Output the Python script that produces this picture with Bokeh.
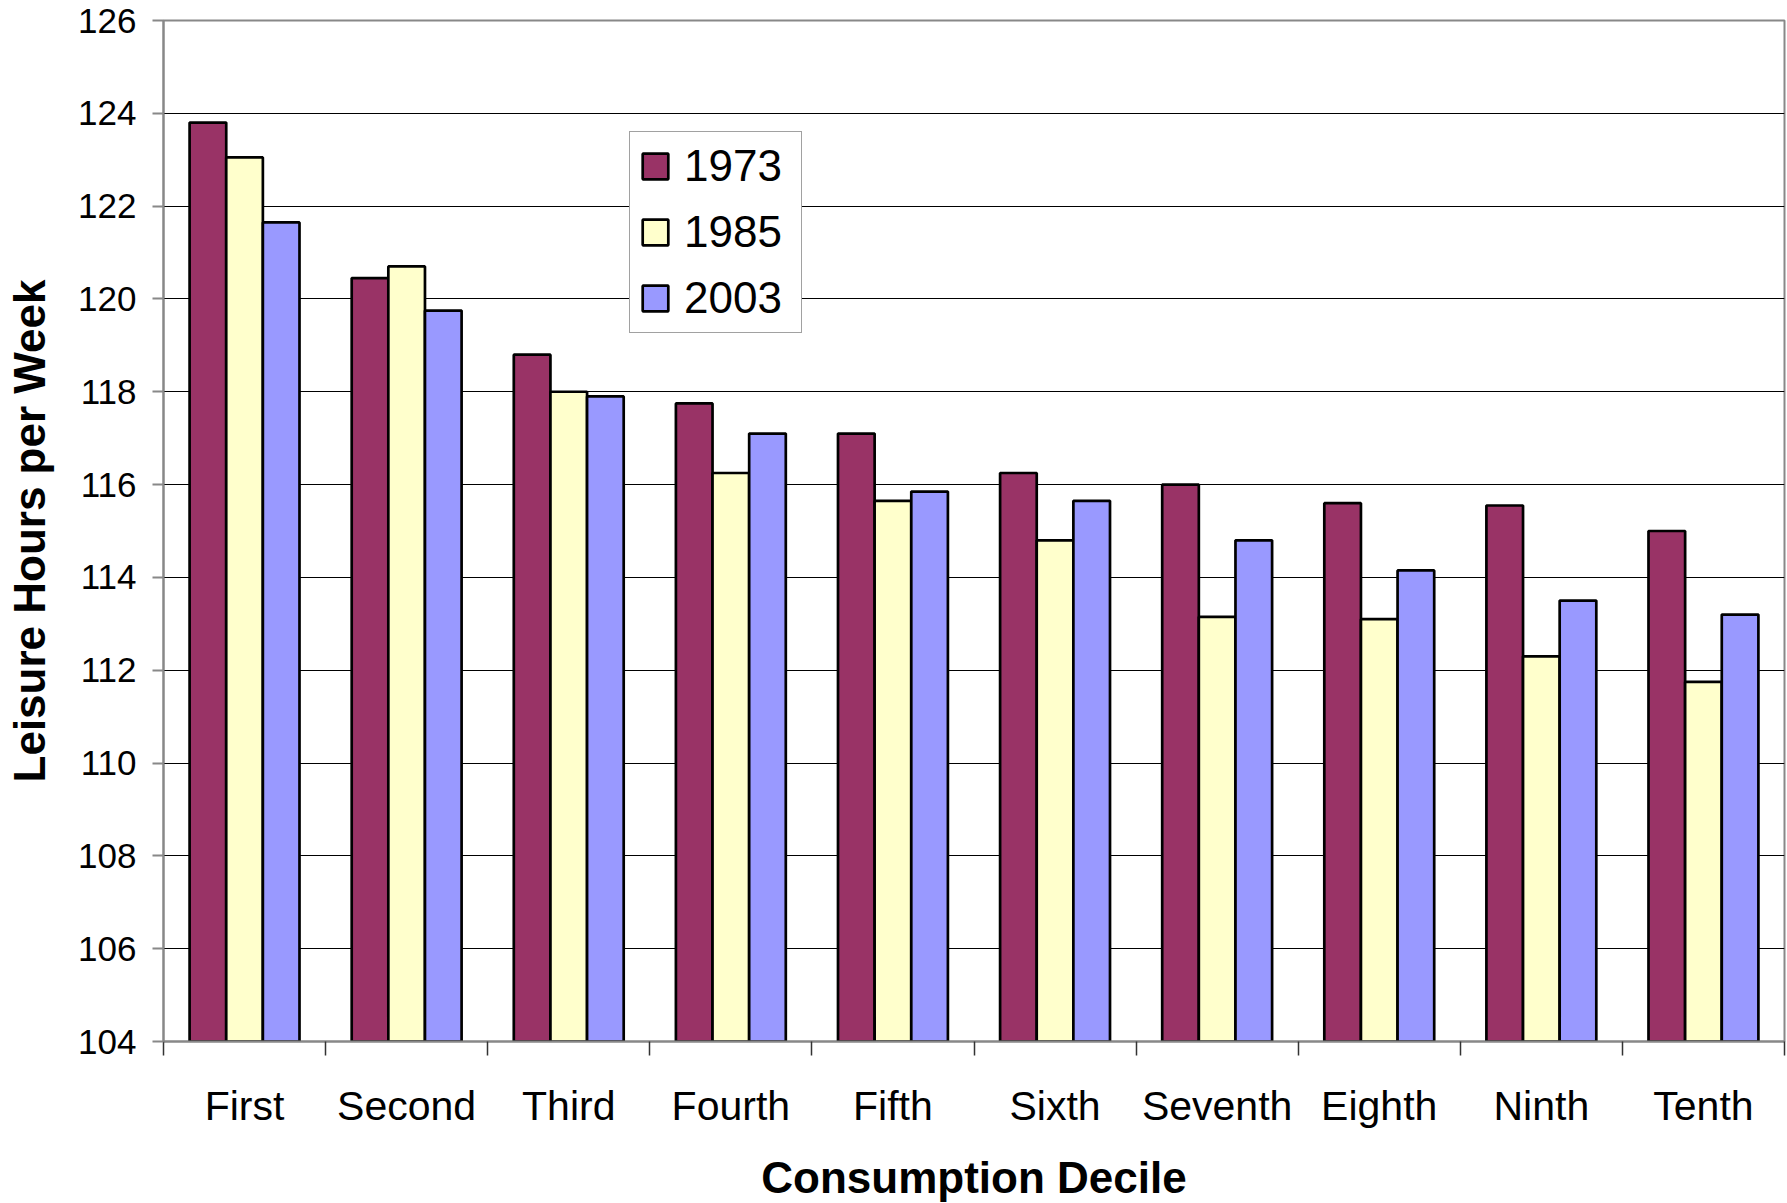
from bokeh.plotting import figure
from bokeh.models import Range1d, FixedTicker, Legend, LegendItem, ColumnDataSource
from bokeh.embed import file_html
from bokeh.resources import INLINE

categories = ["First", "Second", "Third", "Fourth", "Fifth", "Sixth", "Seventh", "Eighth", "Ninth", "Tenth"]
series_names = ["1973", "1985", "2003"]
values_1973 = [123.8, 120.45, 118.8, 117.75, 117.1, 116.25, 116.0, 115.6, 115.55, 115.0]
values_1985 = [123.05, 120.7, 118.0, 116.25, 115.65, 114.8, 113.15, 113.1, 112.3, 111.75]
values_2003 = [121.65, 119.75, 117.9, 117.1, 115.85, 115.65, 114.8, 114.15, 113.5, 113.2]
y_ticks = [104, 106, 108, 110, 112, 114, 116, 118, 120, 122, 124, 126]

colors = ["#993366", "#FFFFCC", "#9999FF"]
FONT = "Liberation Sans"

p = figure(
    output_backend="svg", toolbar_location=None,
    frame_width=1621, frame_height=1021,
    min_border_left=163, min_border_top=20, min_border_right=3, min_border_bottom=162,
    x_range=Range1d(0, len(categories)), y_range=Range1d(y_ticks[0], y_ticks[-1]),
    background_fill_color="white", border_fill_color="white",
)

bar_w = 0.226
offsets = [-bar_w, 0.0, bar_w]
items = []
for name, vals, col, off in zip(series_names, [values_1973, values_1985, values_2003], colors, offsets):
    src = ColumnDataSource(dict(x=[i + 0.5 + off for i in range(len(categories))], top=vals))
    r = p.vbar(x="x", top="top", bottom=y_ticks[0], width=bar_w, source=src,
               fill_color=col, line_color="black", line_width=2.7)
    items.append(LegendItem(label=name, renderers=[r]))

# grid
p.xgrid.grid_line_color = None
p.ygrid.grid_line_color = "black"
p.ygrid.grid_line_width = 1
p.ygrid.ticker = FixedTicker(ticks=y_ticks)

p.outline_line_color = "#888888"
p.outline_line_width = 2

# y axis
p.yaxis.ticker = FixedTicker(ticks=y_ticks)
p.yaxis.axis_line_color = "#888888"
p.yaxis.axis_line_width = 2
p.yaxis.major_tick_line_color = "#888888"
p.yaxis.major_tick_line_width = 2
p.yaxis.major_tick_out = 11
p.yaxis.major_tick_in = 0
p.yaxis.minor_tick_line_color = None
p.yaxis.major_label_text_font = FONT
p.yaxis.major_label_text_font_size = "35px"
p.yaxis.major_label_text_color = "black"
p.yaxis.major_label_standoff = 16
p.yaxis.axis_label = "Leisure Hours per Week"
p.yaxis.axis_label_text_font = FONT
p.yaxis.axis_label_text_font_style = "bold"
p.yaxis.axis_label_text_font_size = "44px"
p.yaxis.axis_label_text_color = "black"
p.yaxis.axis_label_standoff = 21

# x axis
centers = [i + 0.5 for i in range(len(categories))]
bounds = list(range(len(categories) + 1))
p.xaxis.ticker = FixedTicker(ticks=centers, minor_ticks=bounds)
p.xaxis.major_label_overrides = {c: lab for c, lab in zip(centers, categories)}
p.xaxis.axis_line_color = "#888888"
p.xaxis.axis_line_width = 2
p.xaxis.major_tick_line_color = None
p.xaxis.major_tick_out = 0
p.xaxis.major_tick_in = 0
p.xaxis.minor_tick_line_color = "#333333"
p.xaxis.minor_tick_line_width = 1.5
p.xaxis.minor_tick_out = 14
p.xaxis.minor_tick_in = 0
p.xaxis.major_label_text_font = FONT
p.xaxis.major_label_text_font_size = "41px"
p.xaxis.major_label_text_color = "black"
p.xaxis.major_label_standoff = 27
p.xaxis.axis_label = "Consumption Decile"
p.xaxis.axis_label_text_font = FONT
p.xaxis.axis_label_text_font_style = "bold"
p.xaxis.axis_label_text_font_size = "44px"
p.xaxis.axis_label_text_color = "black"
p.xaxis.axis_label_standoff = 21

legend = Legend(items=items, location=(466, 708))
legend.label_text_font = FONT
legend.label_text_font_size = "44px"
legend.label_text_color = "black"
legend.glyph_width = 32
legend.glyph_height = 32
legend.label_height = 32
legend.label_width = 108
legend.label_standoff = 13
legend.spacing = 16
legend.padding = 9
legend.margin = 0
legend.border_line_color = "#444444"
legend.border_line_width = 1.5
legend.background_fill_color = "white"
legend.background_fill_alpha = 1.0
p.add_layout(legend, "center")

open("out.html", "w").write(file_html(p, INLINE))
